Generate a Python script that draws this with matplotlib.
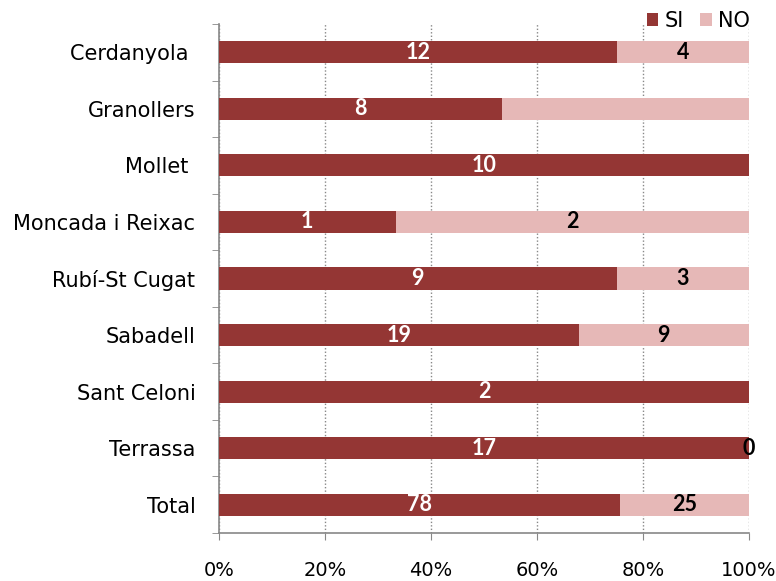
import matplotlib
matplotlib.use("Agg")
import matplotlib.pyplot as plt
import numpy as np

plt.rcParams["font.family"] = ["DejaVu Sans"]

categories = ["Cerdanyola ", "Granollers", "Mollet ", "Moncada i Reixac", "Rubí-St Cugat",
              "Sabadell", "Sant Celoni", "Terrassa", "Total"]
si_values = [12, 8, 10, 1, 9, 19, 2, 17, 78]
no_values = [4, 7, 0, 2, 3, 9, 0, 0, 25]
si_labels = ["12", "8", "10", "1", "9", "19", "2", "17", "78"]
no_labels = ["4", "", "", "2", "3", "9", "", "0", "25"]
xtick_labels = ["0%", "20%", "40%", "60%", "80%", "100%"]

si_color = "#943634"
no_color = "#E6B8B7"

fig = plt.figure(figsize=(7.76, 5.81), dpi=100)
ax = fig.add_axes([219/776, 1-533/581, (749-219)/776, (533-24)/581])

si = np.array(si_values, float)
no = np.array(no_values, float)
tot = si + no
si_p = si / tot
no_p = no / tot
y = np.arange(len(categories))

ax.barh(y, si_p, height=0.39, color=si_color, label="SI", zorder=3)
ax.barh(y, no_p, left=si_p, height=0.39, color=no_color, label="NO", zorder=3)

lab_font = dict(family=["Lato", "DejaVu Sans"], fontweight="bold", fontsize=15.5)
for i in range(len(categories)):
    if si_labels[i]:
        ax.text(si_p[i]/2, y[i], si_labels[i], ha="center", va="center", color="white", zorder=4, **lab_font)
    if no_labels[i]:
        xpos = si_p[i] + no_p[i]/2 if no_p[i] > 0 else 1.0
        ax.text(xpos, y[i], no_labels[i], ha="center", va="center", color="black", zorder=4, **lab_font)

ax.set_xlim(0, 1)
ax.set_ylim(len(categories)-0.5, -0.5)
ax.set_xticks(np.linspace(0, 1, 6))
ax.set_xticklabels(xtick_labels, fontsize=14)
ax.set_yticks(y)
ax.set_yticklabels(categories, fontsize=15)
ax.tick_params(axis="y", length=0, pad=17)
ax.set_yticks(np.arange(-0.5, len(categories), 1), minor=True)
ax.tick_params(axis="y", which="minor", length=5, color="#888888", direction="out")
ax.tick_params(axis="x", length=5, color="#888888", direction="out", pad=15)

for s in ["top", "right"]:
    ax.spines[s].set_visible(False)
for s in ["left", "bottom"]:
    ax.spines[s].set_color("#888888")
    ax.spines[s].set_linewidth(1.2)

ax.xaxis.grid(True, linestyle=(0, (1, 1.5)), color="#888888", linewidth=1, zorder=0)
ax.set_axisbelow(True)

leg = ax.legend(loc="center right", bbox_to_anchor=(1.002, 1.006), ncol=2, frameon=False,
                fontsize=15, handlelength=0.55, handleheight=0.55, handletextpad=0.3,
                columnspacing=0.8, borderaxespad=0, borderpad=0)

fig.savefig("out.png", dpi=100)
